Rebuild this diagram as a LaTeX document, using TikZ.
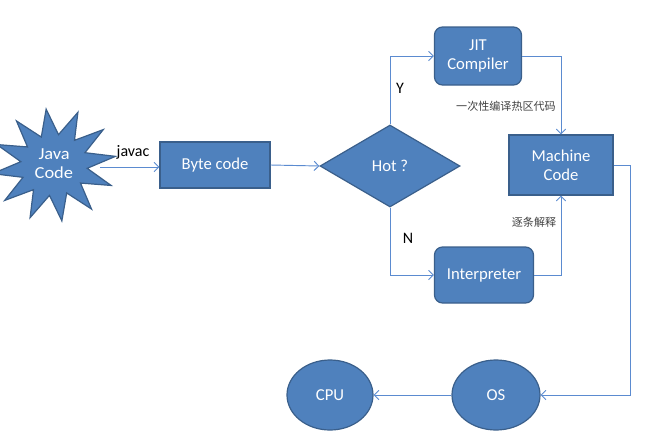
\documentclass[tikz,border=0pt]{standalone}
\usepackage{fontspec}
\setmainfont{Carlito}
\newfontfamily\cjk{Noto Sans CJK SC}
\usetikzlibrary{shapes.geometric,arrows.meta}
\definecolor{boxfill}{HTML}{4F81BD}
\definecolor{boxline}{HTML}{3A5F8B}
\definecolor{conn}{HTML}{5B8BD0}
\definecolor{lbl}{HTML}{404040}
\tikzset{
  shp/.style={fill=boxfill, draw=boxline, line width=0.9pt, text=white, font=\fontsize{12.5}{14.5}\selectfont, align=center, inner sep=0pt},
  sqbox/.style={shp, rectangle},
  rbox/.style={shp, rectangle, rounded corners=6pt},
  conn/.style={draw=conn, line width=0.7pt, -{Straight Barb[length=3.5pt,width=7pt]}},
  lab/.style={font=\fontsize{12}{14}\selectfont, text=black, inner sep=0pt},
  cnlab/.style={font=\cjk\fontsize{8.3}{10}\selectfont, text=lbl, inner sep=0pt}
}
\begin{document}
\begin{tikzpicture}[x=0.75pt,y=-0.75pt]
\useasboundingbox (0,0) rectangle (651,437);
\node[shp, star, star points=12, star point ratio=1.85, minimum size=72pt, rotate=8, xscale=1.1] (java) at (54,165) {\rotatebox{-8}{\begin{tabular}{@{}c@{}}Java\\Code\end{tabular}}};
\node[sqbox, minimum width=82.5pt, minimum height=34.5pt] (byte) at (215,165) {Byte code};
\node[shp, diamond, minimum width=105pt, minimum height=61.5pt] (hot) at (390,166) {Hot ?};
\node[rbox, minimum width=65.25pt, minimum height=43.5pt] (jit) at (478,56) {JIT\\Compiler};
\node[sqbox, minimum width=78pt, minimum height=45pt] (mc) at (561,165) {Machine\\Code};
\node[rbox, minimum width=74.25pt, minimum height=42pt] (interp) at (484,275) {Interpreter};
\node[shp, ellipse, minimum width=66pt, minimum height=52.5pt] (os) at (496,395) {OS};
\node[shp, ellipse, minimum width=64.5pt, minimum height=52.5pt] (cpu) at (330,395) {CPU};
\coordinate (turn) at (630,165);
\coordinate (jstart) at (100,167);

\node[lab] (javac) at (133,152) {javac};
\node[lab] (ylab) at (400,88) {Y};
\node[lab] (nlab) at (408,238) {N};
\node[cnlab] (cn1) at (506,106) {一次性编译热区代码};
\node[cnlab] (cn2) at (534,222) {逐条解释};

\draw[conn] (jstart) -- (jstart -| byte.west);
\draw[conn] (byte.east) -- (hot.west);
\draw[conn] (hot.north) |- (jit.west);
\draw[conn] (jit.east) -| (mc.north);
\draw[conn] (hot.south) |- (interp.west);
\draw[conn] (interp.east) -| (mc.south);
\draw[conn] (mc.east) -- (turn) |- (os.east);
\draw[conn] (os.west) -- (cpu.east);
\end{tikzpicture}
\end{document}
